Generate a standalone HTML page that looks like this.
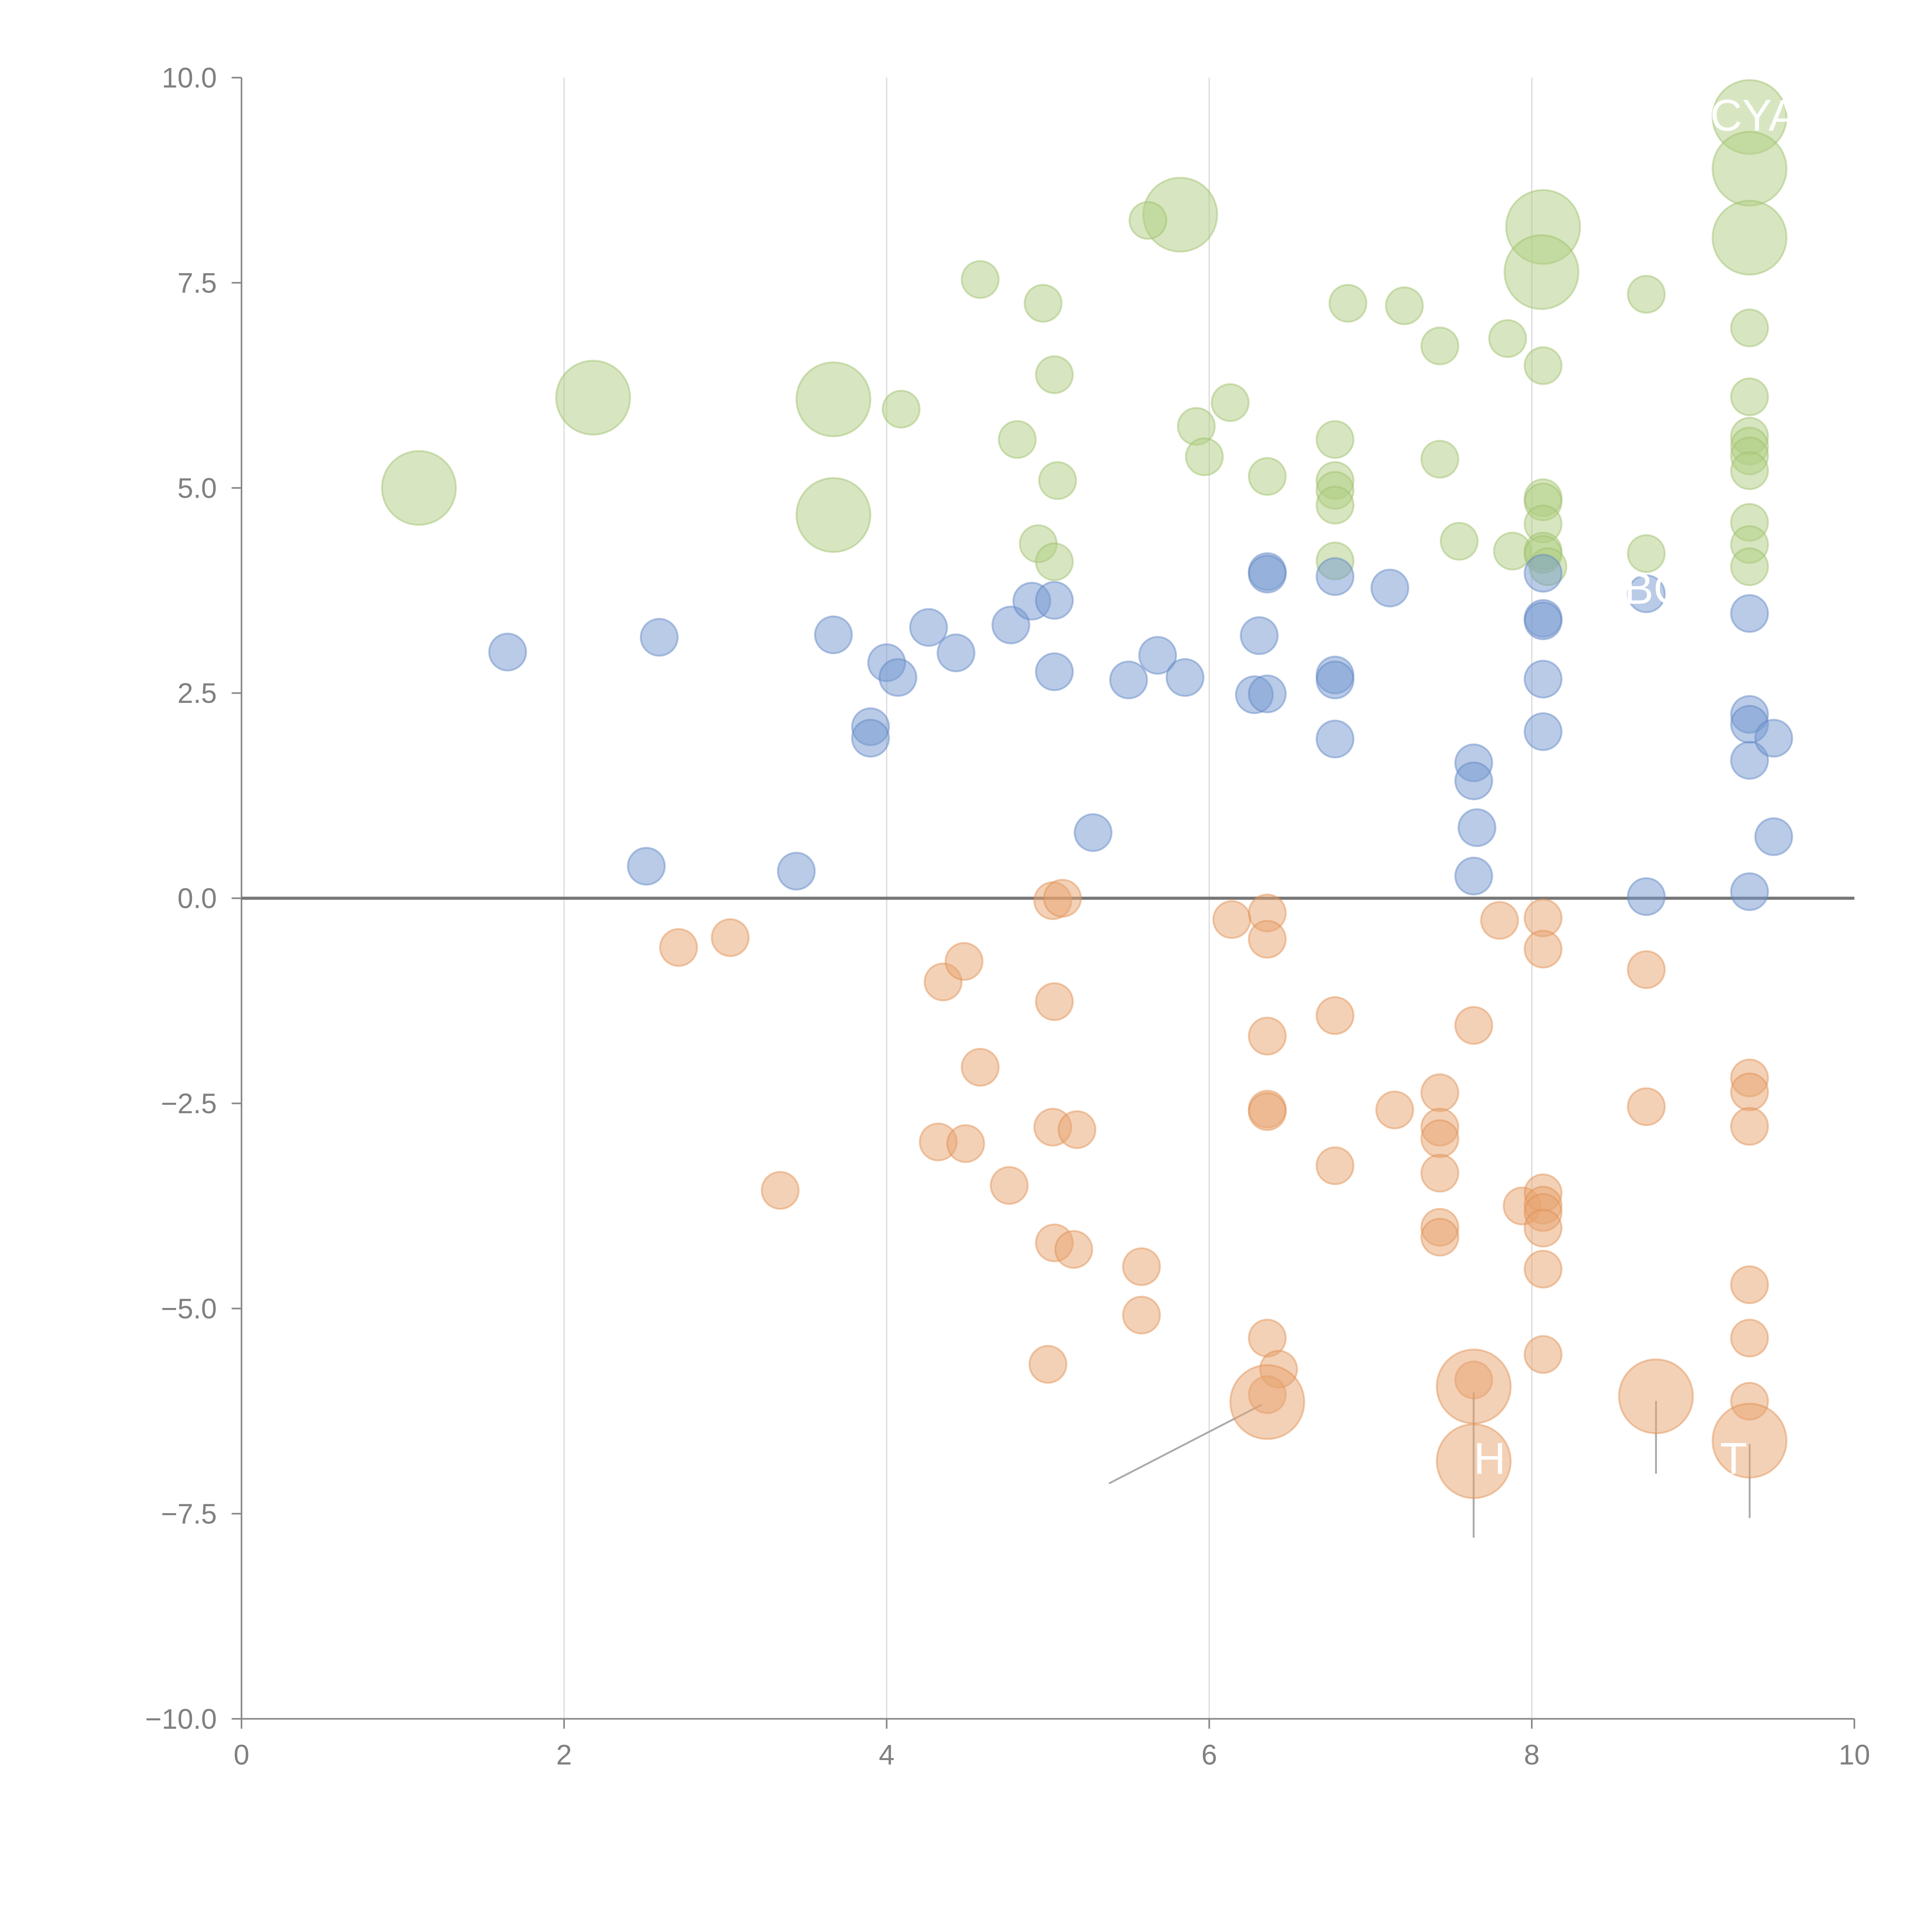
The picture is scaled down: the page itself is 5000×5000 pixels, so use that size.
<!DOCTYPE html>
<html><head><meta charset="utf-8"><style>
html,body{margin:0;padding:0;background:#fff}
svg{display:block}
text{font-family:"Liberation Sans",sans-serif}
</style></head><body>
<svg id="chart" width="5000" height="5000" viewBox="0 0 1568 1568" xmlns="http://www.w3.org/2000/svg">
<g id="grid"></g>
<g id="axes"></g>
<g id="leaders"></g>
<g id="marks"></g>
<g id="labels"></g>
</svg>
<script>
const xTicks=[0,2,4,6,8,10];
const yTicks=[-10,-7.5,-5,-2.5,0,2.5,5,7.5,10];
const gridX=[2,4,6,8];
// green series
const greenX=[1.10,2.18,3.67,3.67,5.82,8.07,8.06,9.35,9.35,9.35,4.58,4.97,5.62,5.04,4.09,4.81,5.06,4.94,5.04,5.92,5.97,6.13,6.36,6.78,6.78,6.78,6.78,6.78,6.86,7.21,7.43,7.43,7.55,7.85,7.88,8.07,8.07,8.07,8.07,8.07,8.07,8.10,8.71,8.71,9.35,9.35,9.35,9.35,9.35,9.35,9.35,9.35,9.35];
const greenY=[5.0,6.1,6.08,4.67,8.33,8.18,7.63,9.52,8.89,8.05,7.54,7.25,8.26,6.38,5.96,5.59,5.09,4.32,4.10,5.75,5.38,6.04,5.14,5.59,5.09,4.97,4.79,4.11,7.25,7.22,6.73,5.35,4.35,6.82,4.23,6.49,4.88,4.83,4.56,4.23,4.19,4.04,7.36,4.20,6.95,6.11,5.63,5.51,5.39,5.21,4.58,4.31,4.04];
const greenSize=[2,2,2,2,2,2,2,2,2,2,1,1,1,1,1,1,1,1,1,1,1,1,1,1,1,1,1,1,1,1,1,1,1,1,1,1,1,1,1,1,1,1,1,1,1,1,1,1,1,1,1,1,1];
// blue series
const blueX=[1.65,2.59,2.51,3.44,3.67,3.90,3.90,4.00,4.07,4.26,4.43,4.77,4.90,5.04,5.04,5.28,5.50,5.68,5.85,6.28,6.31,6.36,6.36,6.36,6.78,6.78,6.78,6.78,7.12,7.64,7.64,7.66,7.64,8.07,8.07,8.07,8.07,8.07,8.71,8.71,9.35,9.35,9.35,9.35,9.35,9.50,9.50];
const blueY=[3.00,3.18,0.39,0.33,3.21,2.09,1.95,2.87,2.69,3.30,2.99,3.33,3.62,3.63,2.76,0.80,2.66,2.96,2.69,2.48,3.20,3.98,3.95,2.49,3.92,2.72,2.66,1.94,3.78,1.65,1.43,0.86,0.27,3.96,3.41,3.38,2.67,2.03,3.71,0.02,3.47,2.24,2.12,1.68,0.08,1.95,0.75];
// orange series
const orangeX=[2.71,3.03,3.34,4.32,4.35,4.48,4.49,4.58,4.76,5.00,5.03,5.09,5.04,5.03,5.18,5.04,5.16,5.58,5.58,6.14,6.36,6.36,6.36,6.36,6.36,6.36,6.43,6.36,6.36,6.78,6.78,7.15,7.43,7.43,7.43,7.43,7.43,7.43,7.64,7.64,7.64,7.64,7.80,7.94,8.07,8.07,8.07,8.07,8.07,8.07,8.07,8.07,8.71,8.71,8.77,9.35,9.35,9.35,9.35,9.35,9.35,9.35];
const orangeY=[-0.60,-0.48,-3.56,-2.97,-1.02,-0.77,-2.99,-2.06,-3.50,-5.68,-0.03,0.0,-1.26,-2.79,-2.82,-4.20,-4.28,-4.49,-5.08,-0.26,-0.18,-0.50,-1.68,-2.57,-2.60,-5.36,-5.74,-6.05,-6.14,-1.43,-3.26,-2.58,-2.37,-2.79,-2.93,-3.35,-4.01,-4.13,-1.55,-5.87,-5.95,-6.86,-0.27,-3.75,-0.24,-0.62,-3.59,-3.74,-3.83,-4.02,-4.52,-5.56,-0.87,-2.54,-6.07,-2.19,-2.36,-2.78,-4.71,-5.36,-6.13,-6.61];
const orangeSize=[1,1,1,1,1,1,1,1,1,1,1,1,1,1,1,1,1,1,1,1,1,1,1,1,1,1,1,1,2,1,1,1,1,1,1,1,1,1,1,1,2,2,1,1,1,1,1,1,1,1,1,1,1,1,2,1,1,1,1,1,1,2];

const NS='http://www.w3.org/2000/svg';
const X0=196,X1=1505,Y0=1395,Y1=63;
function sx(v){return X0+(v-0)/10*(X1-X0);}
function sy(v){return Y0-(v+10)/20*(Y0-Y1);}
function mk(tag,attrs,parent){const e=document.createElementNS(NS,tag);for(const k in attrs)e.setAttribute(k,attrs[k]);parent.appendChild(e);return e;}
const grid=document.getElementById('grid'),axes=document.getElementById('axes'),marks=document.getElementById('marks'),leaders=document.getElementById('leaders'),labels=document.getElementById('labels');
gridX.forEach(v=>{const l=mk('line',{x1:sx(v),x2:sx(v),y1:Y1,y2:Y0,stroke:'#dcdcdc','stroke-width':1},grid);

});
let a=mk('line',{x1:X0,x2:X0,y1:Y1,y2:Y0,stroke:'#888','stroke-width':1.3},axes);


a=mk('line',{x1:X0,x2:X1,y1:Y0,y2:Y0,stroke:'#888','stroke-width':1.3},axes);


yTicks.forEach(v=>{const y=sy(v);mk('line',{x1:X0-8,x2:X0,y1:y,y2:y,stroke:'#888','stroke-width':1.3},axes);
const t=mk('text',{x:X0-20,y:y+8,'text-anchor':'end','font-size':23,fill:'#808080'},axes);t.textContent=(v<0?'\u2212':'')+Math.abs(v).toFixed(1);

});
xTicks.forEach(v=>{const x=sx(v);mk('line',{x1:x,x2:x,y1:Y0,y2:Y0+8,stroke:'#888','stroke-width':1.3},axes);
const t=mk('text',{x:x,y:Y0+37,'text-anchor':'middle','font-size':23,fill:'#808080'},axes);t.textContent=String(v);

});
function series(xs,ys,sz,fill,stroke,name){xs.forEach((x,i)=>{const r=(sz&&sz[i]===2)?30:15;
const c=mk('circle',{cx:sx(x),cy:sy(ys[i]),r:r,fill:fill,'fill-opacity':0.5,stroke:stroke,'stroke-opacity':0.45,'stroke-width':1.5},marks);

});}
series(greenX,greenY,greenSize,'#afcd82','#9dbf6a','green');
series(blueX,blueY,null,'#7498cf','#5f86c4','blue');
series(orangeX,orangeY,orangeSize,'#e8a46f','#df8d4f','orange');
const zl=mk('line',{x1:X0,x2:X1,y1:sy(0),y2:sy(0),stroke:'#777','stroke-width':2.5},axes);


[[900,1204,1024,1140],[1196,1130,1196,1248],[1344,1137,1344,1196],[1420,1172,1420,1232]].forEach(p=>{const l=mk('line',{x1:p[0],y1:p[1],x2:p[2],y2:p[3],stroke:'#aaa','stroke-width':1.5},leaders);

});
[['CYA',1388,106],['BO',1318,490],['H',1196,1196],['T',1396,1196]].forEach(p=>{const t=mk('text',{x:p[1],y:p[2],'font-size':36,fill:'#fff'},labels);t.textContent=p[0];

});
</script>
</body></html>
